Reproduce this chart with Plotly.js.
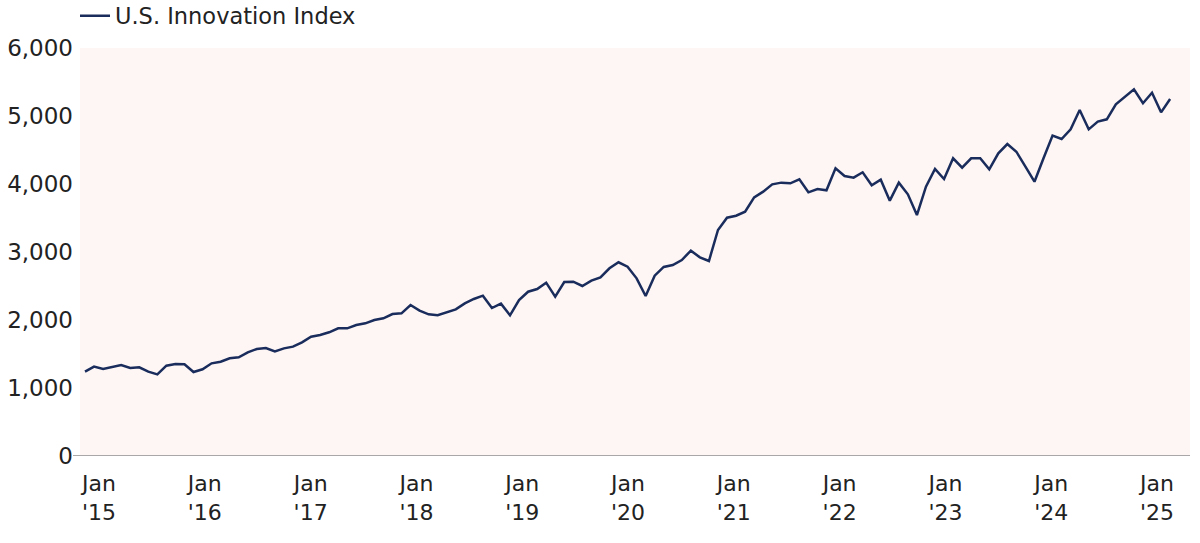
<!DOCTYPE html>
<html>
<head>
<meta charset="utf-8">
<script src="https://cdn.plot.ly/plotly-3.0.1.min.js"></script>
<style>
  html, body { margin: 0; padding: 0; background: #ffffff; }
  #chart { width: 1200px; height: 543px; }
</style>
</head>
<body>
<div id="chart"></div>
<script>
// Monthly index values, Jan 2015 .. Jan 2025
const startYear = 2015;
const indexValues = [
  1240, 1314, 1279, 1309, 1338, 1294, 1304, 1240, 1201, 1328, 1353, 1348,
  1235, 1275, 1363, 1387, 1436, 1451, 1525, 1574, 1588, 1539, 1583, 1608,
  1672, 1755, 1779, 1819, 1877, 1877, 1926, 1951, 2000, 2025, 2088, 2098,
  2221, 2137, 2083, 2069, 2118, 2157, 2245, 2309, 2358, 2176, 2240, 2069,
  2294, 2416, 2456, 2549, 2343, 2559, 2564, 2500, 2578, 2628, 2760, 2849,
  2784, 2613, 2353, 2652, 2780, 2809, 2882, 3020, 2922, 2868, 3324, 3505,
  3534, 3593, 3804, 3887, 3995, 4020, 4010, 4069, 3878, 3927, 3907, 4231,
  4118, 4093, 4172, 3981, 4064, 3755, 4020, 3848, 3544, 3961, 4221, 4074,
  4378, 4240, 4378, 4378, 4216, 4451, 4588, 4475, 4255, 4034, 4378, 4711,
  4662, 4804, 5088, 4804, 4917, 4951, 5172, 5284, 5392, 5187, 5343, 5054,
  5250
];
const seriesName = "U.S. Innovation Index";
const tickLabels = ["Jan<br>'15", "Jan<br>'16", "Jan<br>'17", "Jan<br>'18", "Jan<br>'19",
                    "Jan<br>'20", "Jan<br>'21", "Jan<br>'22", "Jan<br>'23", "Jan<br>'24", "Jan<br>'25"];
const yTicks = [0, 1000, 2000, 3000, 4000, 5000, 6000];

// month index positions and month labels
const monthIndex = indexValues.map((_, i) => i);
const monthNames = indexValues.map((_, i) => {
  const y = startYear + Math.floor(i / 12);
  const m = (i % 12) + 1;
  return y + "-" + String(m).padStart(2, "0");
});

// label placement along the month axis (labels sit slightly off the month grid, as in the original)
const firstLabelPos = 1.55;
const labelStep = 11.7;
const tickVals = tickLabels.map((_, k) => firstLabelPos + labelStep * k);

const FONT = "'DejaVu Sans', 'Noto Sans', sans-serif";
const TXT = "#222222";

const trace = {
  x: monthIndex,
  y: indexValues,
  text: monthNames,
  type: "scatter",
  mode: "lines",
  name: seriesName,
  line: { color: "#1a2c5b", width: 2.5 },
  hovertemplate: "%{text}: %{y:,.0f}<extra></extra>"
};

const layout = {
  width: 1200,
  height: 543,
  margin: { l: 80, r: 10, t: 48, b: 87, autoexpand: false },
  paper_bgcolor: "#ffffff",
  plot_bgcolor: "#fdf6f5",
  font: { family: FONT, color: TXT, size: 22 },
  showlegend: true,
  legend: {
    xref: "paper", yref: "paper",
    x: -5 / 1110, y: 1 + 32 / 408,
    xanchor: "left", yanchor: "middle",
    bgcolor: "rgba(0,0,0,0)",
    font: { family: FONT, size: 22.5, color: TXT }
  },
  xaxis: {
    type: "linear",
    range: [-0.553, 122.2],
    tickmode: "array",
    tickvals: tickVals,
    ticktext: tickLabels,
    showgrid: false,
    zeroline: false,
    showline: false,
    ticks: "",
    ticklabelstandoff: 12,
    tickfont: { family: FONT, size: 22, color: TXT },
    fixedrange: true
  },
  yaxis: {
    range: [0, 6000],
    tickmode: "array",
    tickvals: yTicks,
    tickformat: ",.0f",
    showgrid: false,
    zeroline: false,
    showline: false,
    ticks: "",
    ticklabelstandoff: 6,
    tickfont: { family: FONT, size: 23, color: TXT },
    fixedrange: true
  },
  shapes: [
    {
      type: "line", xref: "paper", yref: "y",
      x0: -7 / 1110, x1: 1, y0: 0, y1: 0,
      line: { color: "#8c8c8c", width: 1.5 }
    }
  ]
};

Plotly.newPlot("chart", [trace], layout, { displayModeBar: false, staticPlot: true });
</script>
</body>
</html>
